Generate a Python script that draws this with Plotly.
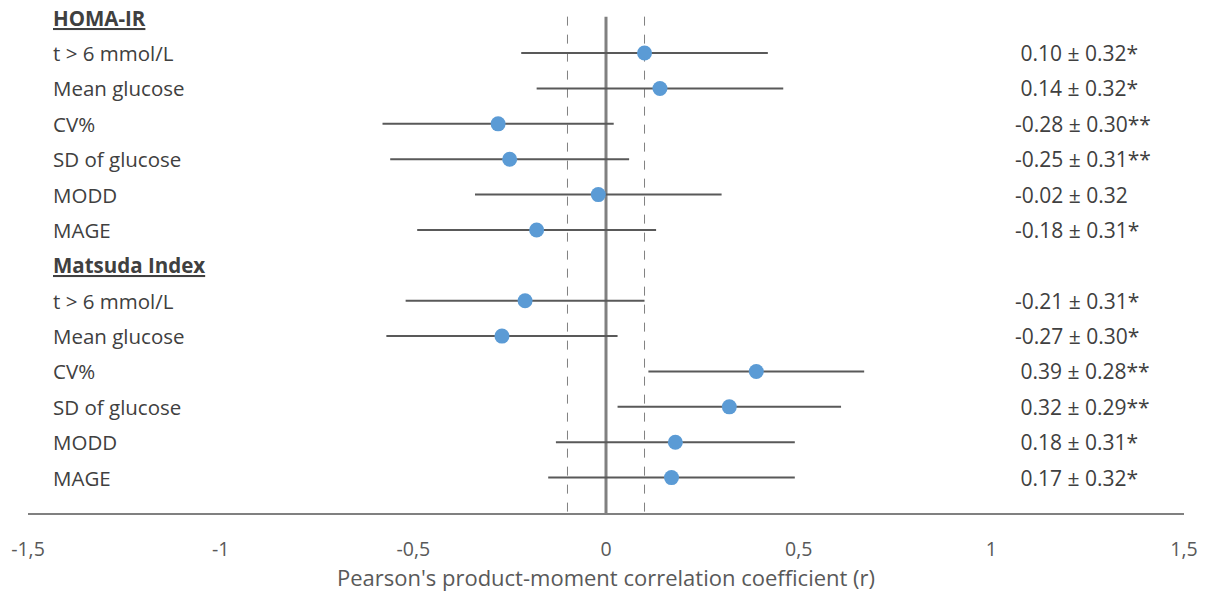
import plotly.graph_objects as go

groups = ["HOMA-IR", "Matsuda Index"]
metrics = ["t > 6 mmol/L", "Mean glucose", "CV%", "SD of glucose", "MODD", "MAGE"]
homa_r = [0.10, 0.14, -0.28, -0.25, -0.02, -0.18]
homa_ci = [0.32, 0.32, 0.30, 0.31, 0.32, 0.31]
homa_sig = ["*", "*", "**", "**", "", "*"]
matsuda_r = [-0.21, -0.27, 0.39, 0.32, 0.18, 0.17]
matsuda_ci = [0.31, 0.30, 0.28, 0.29, 0.31, 0.32]
matsuda_sig = ["*", "*", "**", "**", "*", "*"]
tick_vals = [-1.5, -1, -0.5, 0, 0.5, 1, 1.5]
tick_text = ["-1,5", "-1", "-0,5", "0", "0,5", "1", "1,5"]
threshold = 0.1

FONT = "Open Sans"
TXT = "#404040"

rows = []  # (label, is_header, r, ci, sig)
for g, rs, cis, sigs in [(groups[0], homa_r, homa_ci, homa_sig),
                         (groups[1], matsuda_r, matsuda_ci, matsuda_sig)]:
    rows.append((g, True, None, None, None))
    for m, r, c, s in zip(metrics, rs, cis, sigs):
        rows.append((m, False, r, c, s))

ys, xs, es = [], [], []
for i, (lab, hdr, r, c, s) in enumerate(rows):
    if not hdr:
        ys.append(i)
        xs.append(r)
        es.append(c)

fig = go.Figure()
fig.add_trace(go.Scatter(
    x=xs, y=ys, mode="markers",
    marker=dict(color="#5B9BD5", size=15, line=dict(width=0)),
    error_x=dict(type="data", array=es, symmetric=True, color="#595959",
                 thickness=2, width=0),
    showlegend=False, hoverinfo="skip"))

n = len(rows)
# reference lines
fig.add_shape(type="line", x0=0, x1=0, y0=-0.03, y1=n, xref="x", yref="y",
              line=dict(color="#808080", width=3), layer="below")
for v in (-threshold, threshold):
    fig.add_shape(type="line", x0=v, x1=v, y0=-0.03, y1=n, xref="x", yref="y",
                  line=dict(color="#808080", width=1, dash="dash"), layer="below")

for i, (lab, hdr, r, c, s) in enumerate(rows):
    text = f"<b><u>{lab}</u></b>" if hdr else lab
    fig.add_annotation(x=0.0195, xref="paper", y=i, yref="y", text=text,
                       showarrow=False, xanchor="left", yanchor="middle",
                       font=dict(family=FONT, size=20.5, color=TXT))
    if not hdr:
        rt = f"{r:.2f} \u00b1 {c:.2f}{s}"
        if r >= 0:
            rt = "\u00a0" + rt
        fig.add_annotation(x=0.852, xref="paper", y=i, yref="y", text=rt,
                           showarrow=False, xanchor="left", yanchor="middle",
                           font=dict(family=FONT, size=21, color=TXT))

fig.update_xaxes(range=[-1.5, 1.5], tickvals=tick_vals, ticktext=tick_text,
                 showgrid=False, zeroline=False, showline=True,
                 linecolor="#808080", linewidth=2, ticks="",
                 ticklabelstandoff=18,
                 tickfont=dict(family=FONT, size=19.5, color="#595959"),
                 title=dict(text="Pearson's product-moment correlation coefficient (r)",
                            font=dict(family=FONT, size=22, color="#595959"),
                            standoff=8))
fig.update_yaxes(range=[n, -0.5], showgrid=False, zeroline=False,
                 showticklabels=False, showline=False, ticks="")

fig.update_layout(width=1206, height=599, margin=dict(l=28, r=22, t=0, b=86),
                  plot_bgcolor="white", paper_bgcolor="white")

fig.write_html("out.html")
